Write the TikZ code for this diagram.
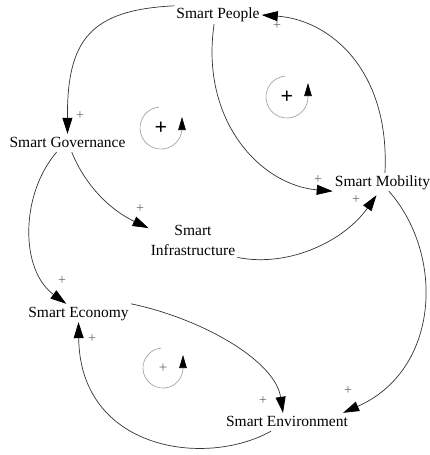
\documentclass[tikz,border=0pt]{standalone}
\usepackage{fontspec}
\setmainfont{Liberation Serif}
\usetikzlibrary{arrows.meta}
\begin{document}
\begin{tikzpicture}[x=1pt,y=-1pt,
  var/.style={inner sep=2pt, font=\fontsize{15.5}{19}\selectfont, text height=11pt, text depth=3pt},
  var2/.style={inner sep=2pt, align=center, font=\fontsize{15.5}{20}\selectfont},
  link/.style={draw=black!80, line width=0.7pt, -{Triangle[length=16pt,width=10pt,color=black]}},
  pol/.style={font=\fontsize{14}{14}\selectfont, text=black!60, inner sep=0pt},
  loopc/.style={draw=black!35, line width=0.7pt, -{Triangle[length=13pt,width=7.5pt,color=black]}},
  looplbl/.style={font=\fontsize{22}{22}\selectfont\bfseries, inner sep=0pt},
  looplbltwo/.style={font=\fontsize{15}{15}\selectfont, text=black!60, inner sep=0pt}]
\useasboundingbox[fill=white] (0,0) rectangle (429,455);

% variables
\node[var] (people) at (218,15) {Smart People};
\node[var] (gov) at (67.5,143) {Smart Governance};
\node[var] (mob) at (382.5,182) {Smart Mobility};
\node[var2] (infra) at (193,240) {Smart\\Infrastructure};
\node[var] (econ) at (78.5,313) {Smart Economy};
\node[var] (env) at (287,422) {Smart Environment};

% links
\draw[link] (people.north west) .. controls (90,10) and (67,40) .. (gov.north);
\draw[link] (people.247) .. controls (200,120) and (260,185) .. (mob.south west);
\draw[link] (mob.75) .. controls (390,70) and (330,20) .. (people.east);
\draw[link] (gov.295) .. controls (85,185) and (110,210) .. (infra.165);
\draw[link] (infra.south east) .. controls (290,268) and (345,240) .. ([xshift=-6pt,yshift=-4pt]mob.south);
\draw[link] (gov.220) .. controls (20,195) and (20,270) .. (econ.143);
\draw[link] (mob.305) .. controls (445,255) and (440,370) .. ([xshift=-7pt]env.north east);
\draw[link] (econ.north east) .. controls (200,318) and (275,360) .. ([xshift=-4pt]env.north);
\draw[link] ([xshift=-16pt]env.south) .. controls (205,468) and (80,450) .. (econ.south);

% polarities
\node[pol] (p1) at (80,116) {+};
\node[pol] (p2) at (318,180) {+};
\node[pol] (p3) at (277,26) {+};
\node[pol] (p4) at (140,209) {+};
\node[pol] (p5) at (356,200) {+};
\node[pol] (p6) at (62,281) {+};
\node[pol] (p7) at (348,391) {+};
\node[pol] (p8) at (263,401) {+};
\node[pol] (p9) at (92,339) {+};

% loop markers
\draw[loopc] (161,128) ++(95:21pt) arc[start angle=95,end angle=360,radius=21pt] -- ++(0pt,11pt);
\node[looplbl] (l1) at (161,128) {+};
\draw[loopc] (287,97) ++(95:21pt) arc[start angle=95,end angle=360,radius=21pt] -- ++(0pt,14pt);
\node[looplbl] (l2) at (287,97) {+};
\draw[loopc] (163,368) ++(95:20pt) arc[start angle=95,end angle=360,radius=20pt] -- ++(0pt,13pt);
\node[looplbltwo] (l3) at (163,368) {+};
\end{tikzpicture}
\end{document}
